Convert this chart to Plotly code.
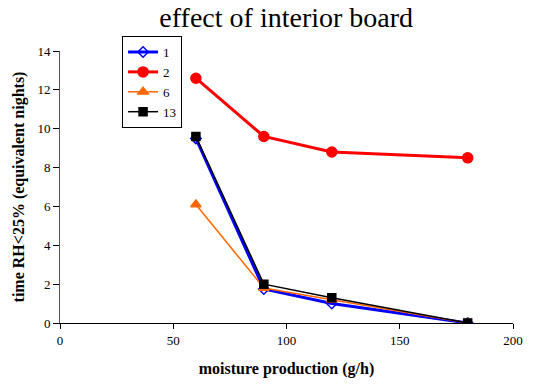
import plotly.graph_objects as go

# moisture production (g/h)
moisture = [60, 90, 120, 180]

# time RH<25% (equivalent nights) per configuration
series_names = ["1", "2", "6", "13"]
values_1 = [9.5, 1.75, 1.0, 0.0]
values_2 = [12.6, 9.6, 8.8, 8.5]
values_6 = [6.1, 1.8, 1.2, 0.0]
values_13 = [9.6, 2.0, 1.3, 0.0]

x_ticks = [0, 50, 100, 150, 200]
y_ticks = [0, 2, 4, 6, 8, 10, 12, 14]

serif = "Liberation Serif, Times New Roman, serif"

styles = [
    dict(values=values_1, color="#0000ff", width=3, symbol="diamond-open", size=8),
    dict(values=values_2, color="#ff0000", width=3, symbol="circle", size=10),
    dict(values=values_6, color="#ff6600", width=1.5, symbol="triangle-up", size=9),
    dict(values=values_13, color="#000000", width=1.5, symbol="square", size=8),
]

fig = go.Figure()
for name, s in zip(series_names, styles):
    fig.add_trace(go.Scatter(
        x=moisture, y=s["values"], name=name, mode="lines+markers",
        line=dict(color=s["color"], width=s["width"]),
        marker=dict(symbol=s["symbol"], size=s["size"], color=s["color"],
                    line=dict(color=s["color"], width=1.5)),
    ))

fig.update_layout(
    width=535, height=385,
    margin=dict(l=60, r=22, t=51, b=62),
    paper_bgcolor="white", plot_bgcolor="white",
    font=dict(family=serif, size=13, color="black"),
    title=dict(text="effect of interior board", x=0.535, xanchor="center",
               y=0.955, yanchor="middle", font=dict(family=serif, size=28)),
    showlegend=True,
    legend=dict(x=0.137, y=1.055, xanchor="left", yanchor="top",
                bordercolor="black", borderwidth=1, bgcolor="white",
                font=dict(family=serif, size=13), tracegroupgap=0,
                itemwidth=30),
)
fig.update_xaxes(
    range=[0, 200], tickvals=x_ticks, showgrid=False, zeroline=False,
    showline=True, linecolor="black", linewidth=1, automargin=False,
    ticks="outside", ticklen=5, tickcolor="black",
    tickfont=dict(family=serif, size=13),
    title=dict(text="<b>moisture production (g/h)</b>", font=dict(family=serif, size=16), standoff=16),
)
fig.update_yaxes(
    range=[0, 14], tickvals=y_ticks, showgrid=False, zeroline=False,
    showline=True, linecolor="#555555", linewidth=1, automargin=False,
    ticks="outside", ticklen=6, tickcolor="black",
    tickfont=dict(family=serif, size=13),
    title=dict(text="<b>time RH<25% (equivalent nights)</b>", font=dict(family=serif, size=16), standoff=8),
)

fig.write_html("out.html")
